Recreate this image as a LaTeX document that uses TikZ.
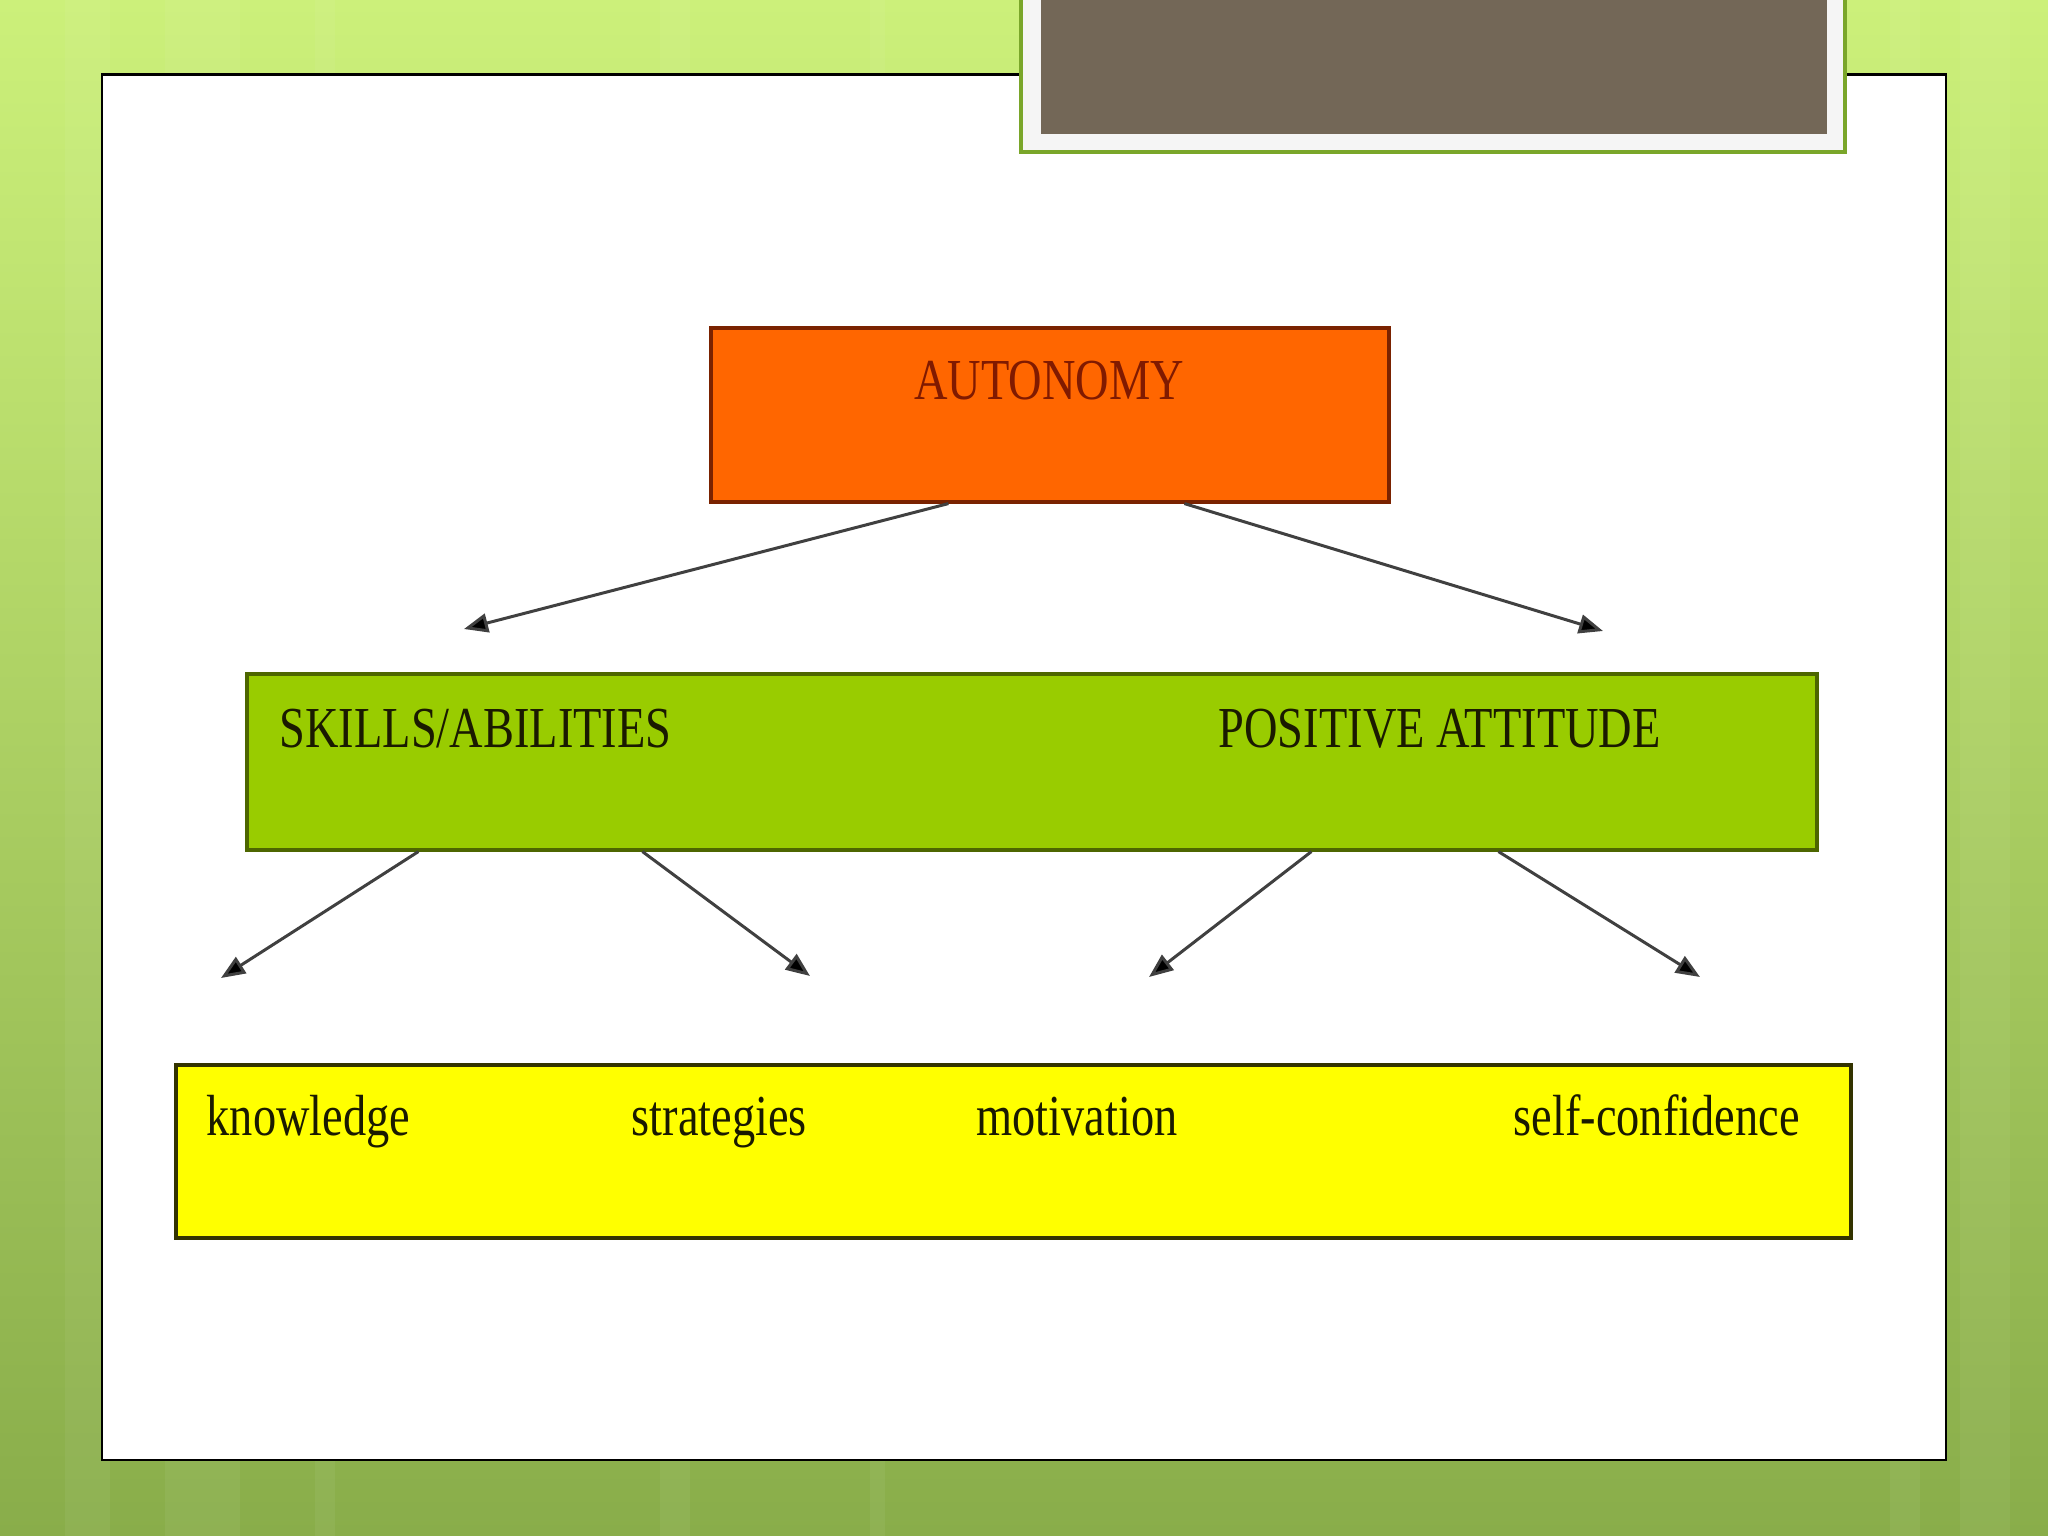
\documentclass[tikz,border=0pt]{standalone}
\usepackage{fontspec}
\usepackage{tikz}
\usetikzlibrary{arrows.meta}
\usepackage[dvipsnames]{xcolor}

\newfontfamily\slidefont[FakeStretch=0.8]{Liberation Serif}

\definecolor{bgTop}{RGB}{204,240,122}
\definecolor{bgBottom}{RGB}{137,173,74}
\definecolor{frameGreen}{RGB}{122,166,42}
\definecolor{frameWhite}{RGB}{245,245,245}
\definecolor{titleGray}{RGB}{115,103,87}
\definecolor{autoOrange}{RGB}{255,102,0}
\definecolor{autoEdge}{RGB}{122,34,0}
\definecolor{autoText}{RGB}{128,26,0}
\definecolor{midGreen}{RGB}{153,204,0}
\definecolor{midEdge}{RGB}{77,102,0}
\definecolor{lowYellow}{RGB}{255,255,0}
\definecolor{lowEdge}{RGB}{51,51,0}
\definecolor{darkText}{RGB}{26,26,0}

\tikzset{
  box/.style={draw, line width=0.9pt, inner sep=0pt, rectangle},
  lbl/.style={inner sep=0pt, anchor=base west, font=\slidefont\fontsize{16.5}{18}\selectfont, text=darkText},
  arr/.style={draw=black!75, line width=0.85pt, -{Triangle[length=0.24cm,width=0.19cm,fill=black]}}
}

\begin{document}
\begin{tikzpicture}
  \clip (0,0) rectangle (20.48,-15.36);
  % slide background
  \shade[top color=bgTop, bottom color=bgBottom] (0,0) rectangle (20.48,-15.36);
  \foreach \x/\w in {0.65/0.45, 1.65/0.75, 3.15/0.2, 6.6/0.3, 8.7/0.15, 18.9/0.3, 19.6/0.5}
    \fill[white, opacity=0.05] (\x,0) rectangle ++(\w,-15.36);
  \draw[black, line width=0.7pt, fill=white] (1.02,-0.745) rectangle (19.46,-14.60);
  \draw[frameGreen, line width=1.3pt, fill=frameWhite] (10.21,0.1) rectangle (18.45,-1.52);
  \fill[titleGray] (10.41,0.1) rectangle (18.27,-1.34);

  \node[box, fill=autoOrange, draw=autoEdge, minimum width=6.78cm, minimum height=1.74cm] (auto) at (10.50,-4.15) {};
  \node[box, fill=midGreen, draw=midEdge, minimum width=15.70cm, minimum height=1.76cm] (mid) at (10.32,-7.62) {};
  \node[box, fill=lowYellow, draw=lowEdge, minimum width=16.75cm, minimum height=1.73cm] (low) at (10.135,-11.515) {};

  \node[lbl, anchor=base, text=autoText] (autotxt) at (10.49,-4.00) {AUTONOMY};
  \node[lbl] (skills) at (2.79,-7.47) {SKILLS/ABILITIES};
  \node[lbl] (attitude) at (12.18,-7.47) {POSITIVE ATTITUDE};
  \node[lbl] (knowledge) at (2.06,-11.35) {knowledge};
  \node[lbl] (strategies) at (6.31,-11.35) {strategies};
  \node[lbl] (motivation) at (9.76,-11.35) {motivation};
  \node[lbl] (selfconf) at (15.13,-11.35) {self-confidence};

  \coordinate (tipskills) at (4.64,-6.29);
  \coordinate (tipattitude) at (16.03,-6.31);
  \coordinate (tipknow) at (2.21,-9.78);
  \coordinate (tipstrat) at (8.10,-9.76);
  \coordinate (tipmotiv) at (11.49,-9.77);
  \coordinate (tipconf) at (17.00,-9.77);

  \draw[arr] (auto.south west) ++(2.39,0) -- (tipskills);
  \draw[arr] (auto.south west) ++(4.75,0) -- (tipattitude);
  \draw[arr] (mid.south west) ++(1.73,0) -- (tipknow);
  \draw[arr] (mid.south west) ++(3.97,0) -- (tipstrat);
  \draw[arr] (mid.south west) ++(10.66,0) -- (tipmotiv);
  \draw[arr] (mid.south west) ++(12.53,0) -- (tipconf);
\end{tikzpicture}
\end{document}
